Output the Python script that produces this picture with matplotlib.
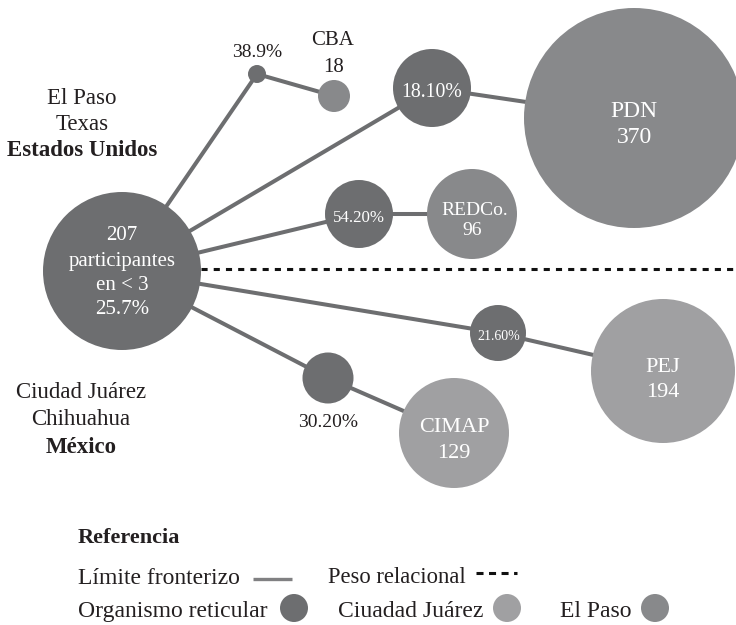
import matplotlib
matplotlib.use('Agg')
import matplotlib.pyplot as plt
import matplotlib.patches as mpatches

# --- data ---
hub_lines = ['207', 'participantes', 'en < 3', '25.7%']
organismos = ['CBA', 'PDN', 'REDCo.', 'PEJ', 'CIMAP']
participantes = [18, 370, 96, 194, 129]
pesos = ['38.9%', '18.10%', '54.20%', '21.60%', '30.20%']
ciudad = ['El Paso', 'El Paso', 'El Paso', 'Ciudad Juárez', 'Ciudad Juárez']

# --- layout (pixel coords, y down) ---
hub_xy, hub_r = (122, 271), 79
peso_xy = [(257, 74), (432, 88), (359, 214), (498, 333), (328, 378)]
peso_r = [9, 39, 34, 28, 25.5]
org_xy = [(334, 96), (634, 118), (472, 214), (663, 371), (454, 433)]
org_r = [16, 110, 45, 72, 55]

DARK = '#6d6e70'
COLORS = {'El Paso': '#88898b', 'Ciudad Juárez': '#a0a0a2'}
INK = '#231f20'
FONT = 'Liberation Serif'

plt.rcParams['font.family'] = FONT

fig = plt.figure(figsize=(7.36, 6.25), dpi=100)
ax = fig.add_axes([0, 0, 1, 1])
ax.set_xlim(0, 736)
ax.set_ylim(625, 0)
ax.axis('off')

# edges
for (px, py), (ox, oy) in zip(peso_xy, org_xy):
    ax.plot([hub_xy[0], px], [hub_xy[1], py], color=DARK, lw=2.9,
            solid_capstyle='butt', zorder=1)
    ax.plot([px, ox], [py, oy], color=DARK, lw=2.9,
            solid_capstyle='butt', zorder=1)

# border line
ax.plot([201, 736], [269, 269], color='#111111', lw=2.2,
        linestyle=(0, (2.0, 2.0)), zorder=1)

# nodes
ax.add_patch(mpatches.Circle(hub_xy, hub_r, color=DARK, lw=0, zorder=2))
for xy, r in zip(peso_xy, peso_r):
    ax.add_patch(mpatches.Circle(xy, r, color=DARK, lw=0, zorder=2))
for xy, r, c in zip(org_xy, org_r, ciudad):
    ax.add_patch(mpatches.Circle(xy, r, color=COLORS[c], lw=0, zorder=2))

# hub text
for txt, y in zip(hub_lines, [240, 266, 290, 314]):
    ax.text(hub_xy[0], y, txt, color='white', fontsize=15, ha='center',
            va='baseline', zorder=3)

# peso labels: (dx, baseline dy, size, color)
peso_style = [(0, -17, 14, INK), (0, 9, 14.2, 'white'), (0, 8, 12.2, 'white'),
              (1, 7, 10, 'white'), (0, 49, 14, INK)]
for (x, y), p, (dx, dy, fs, col) in zip(peso_xy, pesos, peso_style):
    ax.text(x + dx, y + dy, p, color=col, fontsize=fs, ha='center',
            va='baseline', zorder=3)

# organism labels: (dx, name dy, count dy, size, color)
org_style = [(-1, -51, -24, 15, INK), (0, -1, 25, 17, 'white'),
             (3, 1, 21, 14, 'white'), (0, 1, 26, 16, 'white'),
             (0, -1, 25, 16, 'white')]
for (x, y), name, n, (dx, dn, dc, fs, col) in zip(org_xy, organismos,
                                                    participantes, org_style):
    ax.text(x + dx, y + dn, name, color=col, fontsize=fs, ha='center',
            va='baseline', zorder=3)
    ax.text(x, y + dc, str(n), color=col, fontsize=fs, ha='center',
            va='baseline', zorder=3)

# side labels
for txt, y, w in [('El Paso', 104, 'normal'), ('Texas', 130, 'normal'),
                  ('Estados Unidos', 156, 'bold')]:
    ax.text(82, y, txt, color=INK, fontsize=16.5, fontweight=w,
            ha='center', va='baseline')
for txt, y, w in [('Ciudad Juárez', 398, 'normal'), ('Chihuahua', 425, 'normal'),
                  ('México', 453, 'bold')]:
    ax.text(81, y, txt, color=INK, fontsize=16.5, fontweight=w,
            ha='center', va='baseline')

# reference block
ax.text(78, 543, 'Referencia', color=INK, fontsize=16, fontweight='bold',
        va='baseline')
ax.text(78, 584, 'Límite fronterizo', color=INK, fontsize=17, va='baseline')
ax.plot([253, 292], [579, 579], color='#808082', lw=2.4, solid_capstyle='butt')
ax.text(328, 583, 'Peso relacional', color=INK, fontsize=16.3, va='baseline')
ax.plot([476, 517], [573, 573], color='#111111', lw=2.2,
        linestyle=(0, (2.3, 1.8)), solid_capstyle='butt')
ax.text(78, 617, 'Organismo reticular', color=INK, fontsize=17, va='baseline')
ax.add_patch(mpatches.Circle((294, 608), 14, color=DARK, lw=0))
ax.text(338, 617, 'Ciuadad Juárez', color=INK, fontsize=17, va='baseline')
ax.add_patch(mpatches.Circle((507, 608), 14, color=COLORS['Ciudad Juárez'], lw=0))
ax.text(560, 617, 'El Paso', color=INK, fontsize=17, va='baseline')
ax.add_patch(mpatches.Circle((655, 608), 14, color=COLORS['El Paso'], lw=0))

fig.savefig('out.png', dpi=100)
